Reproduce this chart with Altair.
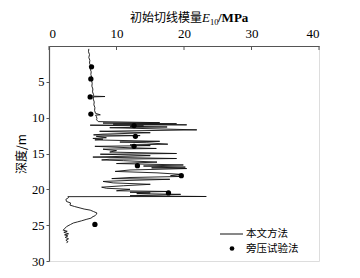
import altair as alt
import pandas as pd

# 本文方法 (continuous profile): depth (m) and E10 (MPa)
line_depth = [0.4, 0.8, 1.2, 1.6, 2.0, 2.4, 2.8, 3.2, 3.6, 4.0, 4.4, 4.8, 5.2, 5.6, 6.0, 6.4, 6.8, 7.0, 7.05, 7.1,
              7.4, 7.8, 8.2, 8.6, 9.0, 9.4, 9.6, 9.65, 9.8, 10.1, 10.3, 10.55,
              10.7, 10.75, 10.85, 10.9, 11.0, 11.05, 11.15, 11.2, 11.3, 11.4, 11.7, 11.9, 12.1, 12.3, 12.4, 12.5,
              12.6, 12.8, 12.9, 13.0, 13.1, 13.3, 13.4, 13.5, 13.7, 13.8, 13.9, 14.0, 14.2, 14.3, 14.4, 14.6,
              14.8, 15.0, 15.1, 15.2, 15.3, 15.5, 15.7, 15.8, 15.9, 16.0, 16.2, 16.4, 16.6, 16.75, 16.9, 17.0,
              17.1, 17.3, 17.5, 17.7, 17.9, 18.1, 18.2, 18.35, 18.5, 18.6, 18.75, 18.9, 19.1, 19.3, 19.5, 19.7,
              19.85, 20.0, 20.2, 20.3, 20.4, 20.5, 20.6, 20.7, 20.8, 20.9, 21.0, 21.02,
              21.15, 21.4, 21.7, 21.9, 22.2, 22.4, 22.6, 22.75, 22.9, 23.1, 23.3, 23.5, 23.7, 23.85, 24.0, 24.2,
              24.4, 24.55, 24.7, 24.9, 25.2, 25.4, 25.7, 25.85, 26.0, 26.2, 26.35, 26.5, 26.7, 26.9, 27.1, 27.3, 27.5]
line_e = [5.9, 5.85, 6.0, 5.9, 6.05, 6.0, 6.2, 6.1, 6.25, 6.2, 6.35, 6.3, 6.4, 6.35, 6.5, 6.45, 6.6, 6.5, 8.3, 6.6,
          6.55, 6.7, 6.65, 6.8, 6.75, 6.9, 7.6, 6.9, 7.0, 7.1, 7.05, 7.3,
          16.4, 8.0, 18.9, 9.5, 20.4, 6.1, 14.0, 12.0, 17.5, 9.0, 21.9, 7.5, 15.0, 8.0, 6.6, 13.5,
          7.0, 8.5, 6.5, 8.0, 6.8, 16.4, 10.5, 14.5, 17.6, 12.0, 15.0, 6.8, 12.0, 15.9, 8.0, 10.0,
          9.0, 18.9, 7.6, 12.0, 15.0, 6.5, 18.9, 9.0, 7.8, 11.0, 16.0, 10.0, 19.9, 14.0, 20.2, 15.2,
          20.4, 12.0, 9.8, 16.0, 19.4, 18.0, 19.8, 12.0, 9.3, 17.9, 12.0, 8.0, 9.5, 15.0, 11.0, 7.8,
          8.5, 12.0, 10.0, 17.9, 12.0, 15.0, 13.0, 19.5, 16.0, 12.0, 23.3, 2.8,
          2.9, 2.5, 2.6, 3.2, 3.1, 3.8, 4.6, 5.2, 6.1, 6.6, 7.1, 7.0, 6.8, 6.4, 6.3, 5.5,
          4.8, 4.2, 3.6, 3.2, 2.6, 2.4, 2.1, 2.7, 2.2, 2.9, 2.3, 2.8, 2.4, 2.9, 2.5, 2.8, 2.6]

# 旁压试验法 (pressuremeter test points)
pt_depth = [2.9, 4.6, 7.1, 9.5, 11.1, 12.6, 14.0, 16.7, 18.1, 20.5, 24.9]
pt_e = [6.3, 6.2, 6.1, 6.2, 12.6, 12.8, 12.6, 13.1, 19.6, 17.7, 6.8]

x_ticks = [0, 10, 20, 30, 40]
y_ticks = [5, 10, 15, 20, 25, 30]

serif = "Liberation Serif"
cjk = "Noto Sans CJK SC"

line_df = pd.DataFrame({"idx": range(len(line_depth)), "depth": line_depth, "E": line_e})
pt_df = pd.DataFrame({"depth": pt_depth, "E": pt_e})
tick_df = pd.DataFrame({"t": x_ticks})

xs = alt.Scale(domain=[0, 40], nice=False, zero=False)
ys = alt.Scale(domain=[0, 30], reverse=True, nice=False, zero=False)

x_axis = alt.Axis(orient="top", values=x_ticks, title=None, grid=False, tickSize=0,
                  labelFont=serif, labelFontSize=13, labelColor="black", labelPadding=6,
                  domainColor="#555", domainWidth=1.2)
y_axis = alt.Axis(values=y_ticks, title="深度/m", grid=False, tickSize=3, tickColor="#555",
                  labelFont=serif, labelFontSize=12.5, labelColor="black", labelPadding=2,
                  domainColor="#555", domainWidth=1.2,
                  titleFont=cjk, titleFontSize=12, titleFontWeight="normal", titleColor="black",
                  titlePadding=3)

line = alt.Chart(line_df).mark_line(color="#111", strokeWidth=0.9).encode(
    x=alt.X("E:Q", scale=xs, axis=x_axis),
    y=alt.Y("depth:Q", scale=ys, axis=y_axis),
    order="idx:Q",
)

points = alt.Chart(pt_df).mark_point(filled=True, color="black", size=28, opacity=1).encode(
    x=alt.X("E:Q", scale=xs),
    y=alt.Y("depth:Q", scale=ys),
)

ticks = alt.Chart(tick_df).mark_rule(color="#555", strokeWidth=1).encode(
    x=alt.X("t:Q", scale=xs),
    y=alt.value(0),
    y2=alt.value(4),
)

def txt(s, x, y, font=cjk, size=12, style="normal", weight="normal", align="left", baseline="alphabetic"):
    return alt.Chart(pd.DataFrame({"s": [s]})).mark_text(
        font=font, fontSize=size, fontStyle=style, fontWeight=weight, align=align,
        baseline=baseline, color="black").encode(
        text="s:N", x=alt.value(x), y=alt.value(y))

title_parts = [
    txt("初始切线模量", 153, -24, size=12, align="right"),
    txt("E", 153, -24, font=serif, size=13, style="italic"),
    txt("10", 161, -21, font=serif, size=8.5),
    txt("/MPa", 169, -24, font=serif, size=13, weight="bold"),
]

legend_line = alt.Chart(pd.DataFrame({"a": [0]})).mark_rule(color="#111", strokeWidth=1).encode(
    x=alt.value(171), x2=alt.value(194), y=alt.value(188))
legend_dot = alt.Chart(pd.DataFrame({"a": [0]})).mark_point(filled=True, color="black", size=22, opacity=1).encode(
    x=alt.value(183), y=alt.value(202.5))
legend_txt = [
    txt("本文方法", 197, 188, size=10.5, baseline="middle"),
    txt("旁压试验法", 197, 202.5, size=10.5, baseline="middle"),
]

chart = alt.layer(line, points, ticks, *title_parts, legend_line, legend_dot, *legend_txt).properties(
    width=270, height=215,
    autosize=alt.AutoSizeParams(type="none"),
    padding={"left": 49, "top": 46, "right": 41, "bottom": 17},
).configure_view(stroke=None).configure(background="white")

chart.save("out.html", embed_options={"renderer": "svg", "actions": False})
